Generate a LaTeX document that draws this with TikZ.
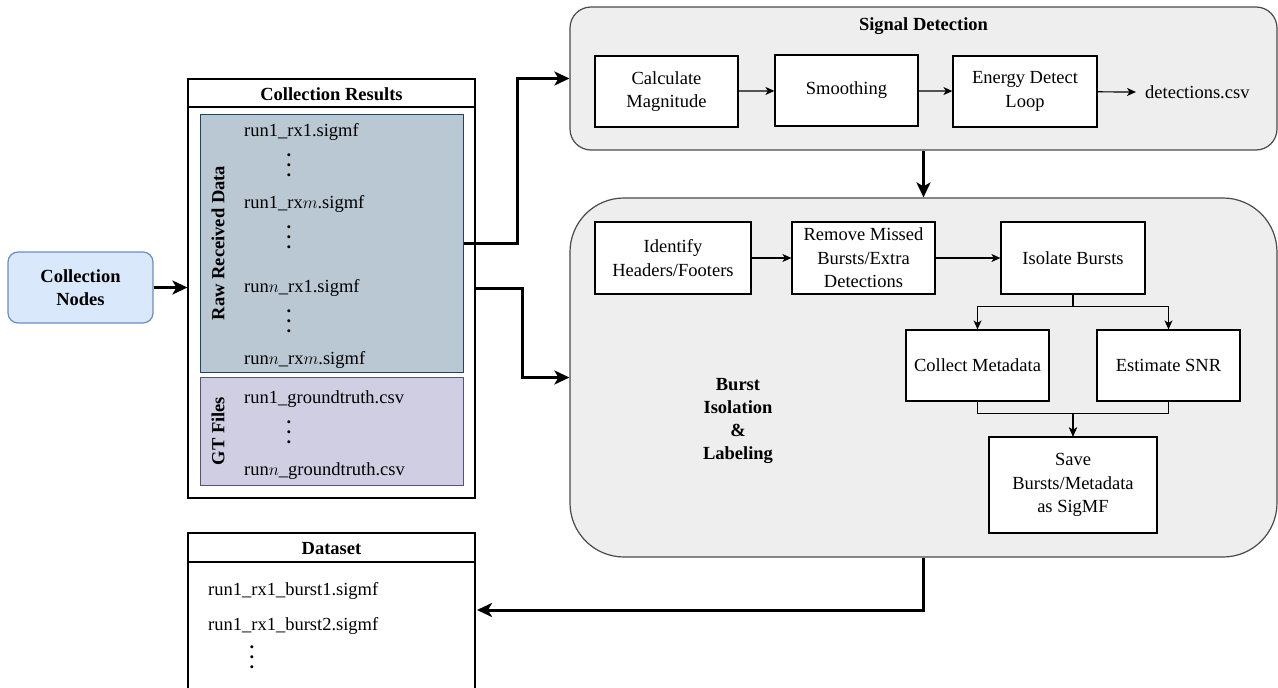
\documentclass[tikz,border=0pt]{standalone}
\usepackage{fontspec}
\setmainfont{Liberation Serif}
\usetikzlibrary{arrows.meta,calc}

\definecolor{cnfill}{HTML}{DAE8FC}
\definecolor{cnline}{HTML}{6C8EBF}
\definecolor{rawfill}{HTML}{BAC8D3}
\definecolor{rawline}{HTML}{23445D}
\definecolor{gtfill}{HTML}{D0CEE2}
\definecolor{gtline}{HTML}{56517E}
\definecolor{grpfill}{HTML}{EEEEEE}
\definecolor{grpline}{HTML}{4A4A4A}

% a column of three dots with wide spacing
\newcommand{\dotcol}{\vbox{\bfseries\baselineskip=10pt\lineskiplimit=0pt\hbox{.}\hbox{.}\hbox{.}}}

\tikzset{
  txt/.style={font=\fontsize{18.5}{23.5}\selectfont, inner sep=0pt},
  boldtxt/.style={txt, font=\fontsize{18.5}{23.5}\selectfont\bfseries, align=center},
  proc/.style={draw=black, fill=white, line width=1.2pt, align=center,
    font=\fontsize{18.5}{23.5}\selectfont, inner sep=2pt},
  group/.style={draw=grpline, fill=grpfill, line width=1.2pt},
  panel/.style={draw=black, fill=white, line width=1.2pt, inner sep=0pt},
  sidelabel/.style={boldtxt, rotate=90},
  flow/.style={line width=1.2pt, -{Stealth[length=9pt,width=8pt,inset=2.5pt]}},
  bigflow/.style={line width=3pt, -{Stealth[length=15pt,width=14pt,inset=4pt]}},
}

\begin{document}
\begin{tikzpicture}[x=1pt,y=-1pt]
\useasboundingbox (0,0) rectangle (1278,688);
\clip (0,0) rectangle (1278,688);

% ---- source ----
\node[draw=cnline, fill=cnfill, line width=1.2pt, rounded corners=10pt,
  minimum width=145pt, minimum height=71pt, boldtxt] (cn) at (80.5,287.5)
  {Collection\\Nodes};

% ---- collection results panel ----
\node[panel, minimum width=287pt, minimum height=419pt] (cr) at (331.5,288.5) {};
\node[boldtxt] (crt) at (331.5,94) {Collection Results};
\coordinate (crl) at (188,107);
\coordinate (crr) at (475,107);
\draw[line width=1.2pt] (crl) -- (crr);

\node[draw=rawline, fill=rawfill, line width=1pt, minimum width=263pt,
  minimum height=258pt, inner sep=0pt] (raw) at (331.5,243) {};
\node[draw=gtline, fill=gtfill, line width=1pt, minimum width=263pt,
  minimum height=108pt, inner sep=0pt] (gt) at (331.5,431) {};
\node[sidelabel] (rawlbl) at (218,243) {Raw Received Data};
\node[sidelabel] (gtlbl) at (218,431) {GT Files};

\node[txt, anchor=west] (f1) at (244,132) {run1\_rx1.sigmf};
\node[txt] (d1) at (289,165) {\dotcol};
\node[txt, anchor=west] (f2) at (244,204) {run1\_rx$m$.sigmf};
\node[txt] (d2) at (289,237) {\dotcol};
\node[txt, anchor=west] (f3) at (244,288) {run$n$\_rx1.sigmf};
\node[txt] (d3) at (289,321) {\dotcol};
\node[txt, anchor=west] (f4) at (244,360) {run$n$\_rx$m$.sigmf};
\node[txt, anchor=west] (g1) at (244,399) {run1\_groundtruth.csv};
\node[txt] (d4) at (289,432) {\dotcol};
\node[txt, anchor=west] (g2) at (244,471) {run$n$\_groundtruth.csv};

% ---- signal detection ----
\node[group, rounded corners=21pt, minimum width=707pt, minimum height=143pt]
  (sd) at (923.5,78.5) {};
\node[boldtxt] (sdt) at (923.5,26) {Signal Detection};
\node[proc, minimum width=143pt, minimum height=71pt] (calc) at (666.5,91.5)
  {Calculate\\Magnitude};
\node[proc, minimum width=143pt, minimum height=71pt] (smooth) at (846.5,90.5)
  {Smoothing};
\node[proc, minimum width=144pt, minimum height=71pt] (energy) at (1025,91.5)
  {Energy Detect\\Loop};
\node[txt, anchor=west] (det) at (1145,92) {detections.csv};

\draw[flow] (calc) -- (smooth);
\draw[flow] (smooth) -- (energy);
\draw[flow] (energy) -- ([xshift=-9pt]det.west);

% ---- burst isolation & labeling ----
\node[group, rounded corners=54pt, minimum width=707pt, minimum height=359pt]
  (bil) at (923.5,377.5) {};
\node[boldtxt, font=\fontsize{18.5}{23}\selectfont\bfseries] (bilt) at (738,421)
  {Burst\\Isolation\\\&\\Labeling};
\node[proc, minimum width=156pt, minimum height=72pt] (ident) at (673,258)
  {Identify\\Headers/Footers};
\node[proc, minimum width=143pt, minimum height=72pt] (remove) at (863.5,258)
  {Remove Missed\\Bursts/Extra\\Detections};
\node[proc, minimum width=144pt, minimum height=72pt] (iso) at (1073,258)
  {Isolate Bursts};
\node[proc, minimum width=143pt, minimum height=71pt] (cm) at (977.5,365.5)
  {Collect Metadata};
\node[proc, minimum width=143pt, minimum height=71pt] (snr) at (1168.5,365.5)
  {Estimate SNR};
\node[proc, minimum width=168pt, minimum height=96pt] (save) at (1073,485)
  {Save\\Bursts/Metadata\\as SigMF};

\draw[flow] (ident) -- (remove);
\draw[flow] (remove) -- (iso);
\draw[flow] (iso.south) -- ++(0,12) -| (cm.north);
\draw[flow] (iso.south) -- ++(0,12) -| (snr.north);
\draw[flow] (cm.south) -- ++(0,12) -| (save.north);
\draw[flow] (snr.south) -- ++(0,12) -| (save.north);

% ---- dataset panel ----
\node[panel, minimum width=287pt, minimum height=187pt] (ds) at (331.5,626.5) {};
\node[boldtxt] (dst) at (331.5,549) {Dataset};
\coordinate (dsl) at (188,562);
\coordinate (dsr) at (475,562);
\draw[line width=1.2pt] (dsl) -- (dsr);
\node[txt, anchor=west] (b1) at (208,591) {run1\_rx1\_burst1.sigmf};
\node[txt, anchor=west] (b2) at (208,626) {run1\_rx1\_burst2.sigmf};
\node[txt] (d5) at (252,657) {\dotcol};
\coordinate (dsin) at (477,610);

% ---- main flow ----
\draw[bigflow] (cn.east) -- (cn.east -| cr.west);
\draw[bigflow] (raw.east) -- ++(54,0) |- (sd.west);
\draw[bigflow] (cr.east) -- ++(47,0) |- (bil.west);
\draw[bigflow] (sd.south) -- (bil.north);
\draw[bigflow] (bil.south) |- (dsin);
\end{tikzpicture}
\end{document}
